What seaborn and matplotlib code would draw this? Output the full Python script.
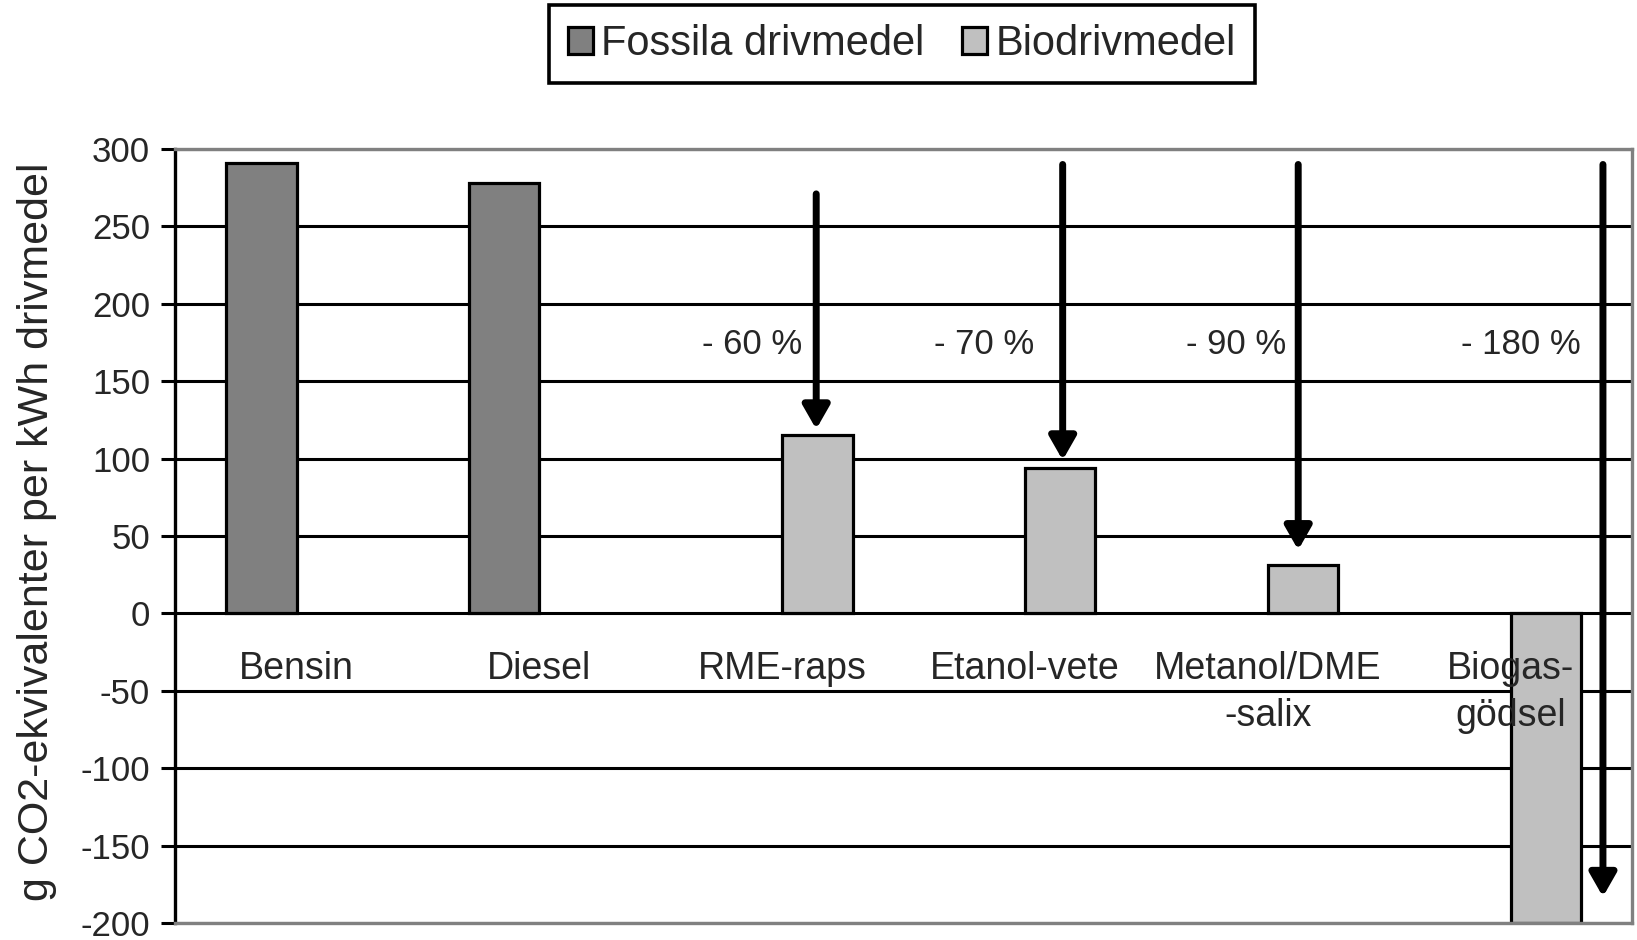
import numpy as np
import pandas as pd
import matplotlib
matplotlib.use('Agg')
import matplotlib.pyplot as plt
import matplotlib.patches as mpatches
import seaborn as sns

# -------------------------------
# Data
# -------------------------------
kategorier = ['Bensin', 'Diesel', 'RME-raps', 'Etanol-vete', 'Metanol/DME\n-salix', 'Biogas-\ngödsel']
typ = ['Fossila drivmedel', 'Fossila drivmedel', 'Biodrivmedel', 'Biodrivmedel', 'Biodrivmedel', 'Biodrivmedel']
varden = [291, 278, 115, 94, 31, -200]
serier = ['Fossila drivmedel', 'Biodrivmedel']
farger = ['#808080', '#C0C0C0']

# pilar: minskning jämfört med fossilt drivmedel
pil_kategori = ['RME-raps', 'Etanol-vete', 'Metanol/DME\n-salix', 'Biogas-\ngödsel']
pil_fran = [271, 290, 290, 290]
pil_till = [119, 99, 41, -183]
pil_text = ['- 60 %', '- 70 %', '- 90 %', '- 180 %']

yticks = list(range(-200, 301, 50))

df = pd.DataFrame({'kategori': kategorier, 'typ': typ, 'varde': varden})

sns.set_style('white')
plt.rcParams['font.family'] = ['Liberation Sans', 'DejaVu Sans']

fig = plt.figure(figsize=(16.37, 9.40), dpi=100)
ax = fig.add_axes([0.107, 0.018, 0.890, 0.8235])

sns.barplot(data=df, x='kategori', y='varde', hue='typ', order=kategorier,
            hue_order=serier, palette=farger, width=0.58, dodge=True,
            errorbar=None, edgecolor='black', linewidth=2.3, legend=False,
            saturation=1, ax=ax, zorder=2)

ax.set_ylim(-200, 300)
ax.set_xlim(-0.5, len(kategorier) - 0.5)
ax.set_yticks(yticks)
ax.set_yticklabels([str(t) for t in yticks], fontsize=25)
ax.tick_params(axis='y', direction='out', length=10, width=2.2, color='black', pad=8, left=True)
ax.tick_params(axis='x', length=0, labelbottom=False)
ax.set_xlabel('')
ax.set_ylabel('')

# rutnät
ax.set_axisbelow(True)
ax.yaxis.grid(True, color='black', linewidth=2.2)
ax.xaxis.grid(False)

for side in ['top', 'right', 'bottom']:
    ax.spines[side].set_color('#808080')
    ax.spines[side].set_linewidth(2.4)
ax.spines['left'].set_color('black')
ax.spines['left'].set_linewidth(2.4)

# kategorinamn innanför diagrammet, under nollan
for i, namn in enumerate(kategorier):
    ax.text(i, -24, namn, ha='center', va='top', fontsize=27,
            linespacing=1.4, zorder=5)

# pilar och procenttext
pil_dx = [0.14, 0.155, 0.125, 0.38]
text_dx = [-0.125, -0.17, -0.13, 0.04]
for k, y0, y1, txt, dx, tdx in zip(pil_kategori, pil_fran, pil_till, pil_text, pil_dx, text_dx):
    i = kategorier.index(k)
    ax.annotate('', xy=(i + dx, y1), xytext=(i + dx, y0), xycoords='data',
                arrowprops=dict(arrowstyle='-|>,head_width=0.4,head_length=0.7',
                                lw=5, color='black', shrinkA=0, shrinkB=0,
                                mutation_scale=20), zorder=6)
    ax.text(i + tdx, 174, txt, ha='center', va='center', fontsize=25, zorder=5)

fig.text(37 / 1637, 0.434, 'g CO2-ekvivalenter per kWh drivmedel', rotation=90,
         ha='center', va='center', fontsize=31)

handles = [mpatches.Patch(facecolor=c, edgecolor='black', linewidth=2.3, label=s)
           for s, c in zip(serier, farger)]
leg = fig.legend(handles=handles, loc='center', bbox_to_anchor=(0.551, 0.953), ncol=2,
                 fontsize=30, frameon=True, fancybox=False, framealpha=1,
                 edgecolor='black', handlelength=0.6, handleheight=0.6,
                 handletextpad=0.2, columnspacing=0.9, borderpad=0.45)
leg.get_frame().set_linewidth(2.6)

fig.savefig('out.png', dpi=100)
